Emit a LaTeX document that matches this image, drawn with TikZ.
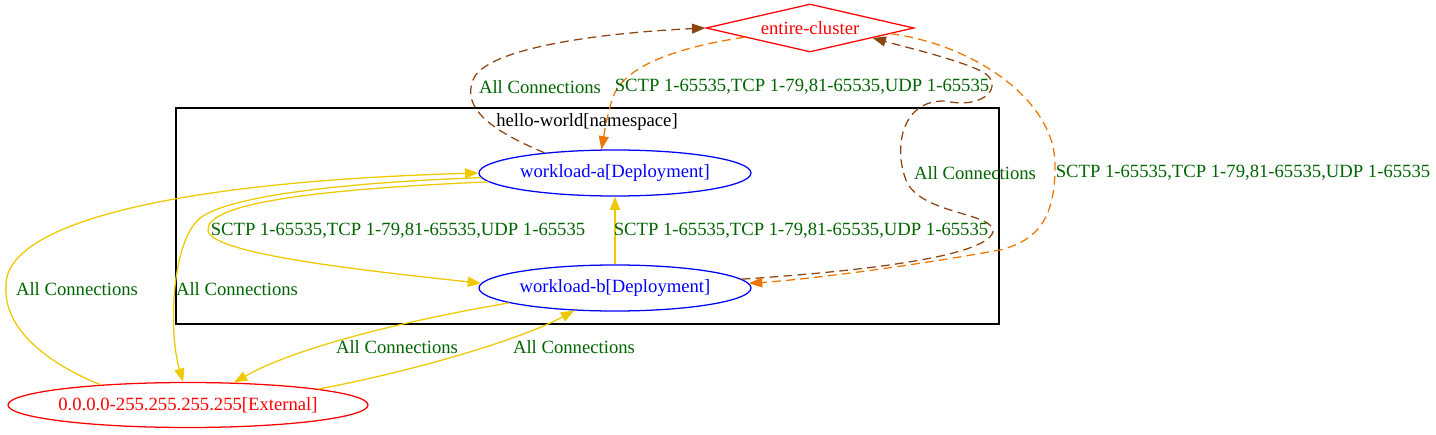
\documentclass[tikz,border=0pt]{standalone}
\usepackage{fontspec}
\setmainfont{Liberation Serif}
\usetikzlibrary{shapes.geometric,arrows.meta}
\definecolor{edgegold}{RGB}{238,201,0}
\definecolor{edgebrown}{RGB}{139,69,19}
\definecolor{edgeorange}{RGB}{238,118,0}
\definecolor{lblgreen}{RGB}{0,100,0}
\begin{document}
\begin{tikzpicture}[x=0.75pt,y=-0.75pt,font=\fontsize{14pt}{16pt}\selectfont,line width=0.95pt,
  workload/.style={ellipse,draw=blue,text=blue,inner sep=0pt,minimum width=204pt,minimum height=34.5pt},
  external/.style={ellipse,draw=red,text=red,inner ysep=0pt,inner xsep=-2pt,minimum width=270pt,minimum height=33.75pt},
  clusterbox/.style={diamond,draw=red,text=red,inner sep=0pt,shape aspect=4.33,minimum width=156pt,minimum height=36pt},
  lbl/.style={text=lblgreen,inner sep=0pt},
  yellowedge/.style={draw=edgegold,-{Triangle[length=10pt,width=7.5pt]}},
  brownedge/.style={draw=edgebrown,dash pattern=on 6.5pt off 4pt,-{Triangle[length=10pt,width=7.5pt]}},
  orangeedge/.style={draw=edgeorange,dash pattern=on 6.5pt off 4pt,-{Triangle[length=10pt,width=7.5pt]}}]
                \useasboundingbox (0,0) rectangle (1436,435);
                \draw (176,108) rectangle (999,324);
                \node (NS) at (587,122) {hello-world[namespace]};
                \node[clusterbox] (EC) at (810,28) {entire-cluster};
                \node[workload] (WA) at (615,173) {workload-a[Deployment]};
                \node[workload] (WB) at (615,288) {workload-b[Deployment]};
                \node[external] (EXT) at (188,405) {0.0.0.0-255.255.255.255[External]};
                \draw[brownedge] (WA.164) .. controls (490,130) and (462,108) .. (473,80) .. controls (485,48) and (600,33) .. (EC.west);
                \draw[orangeedge] (EC.188) .. controls (680,47) and (622,65) .. (612,100) .. controls (606,120) and (604,135) .. (WA.120);
                \draw[brownedge] (WB.4) .. controls (850,272) and (985,258) .. (993,232) .. controls (995,212) and (920,215) .. (906,180) .. controls (894,150) and (900,100) .. (945,101) .. controls (985,110) and (1005,85) .. (983,72) .. controls (960,60) and (905,47) .. (EC.351);
                \draw[orangeedge] (EC.356) .. controls (975,45) and (1053,100) .. (1055,162) .. controls (1056,215) and (1040,240) .. (1000,250) .. controls (900,268) and (800,280) .. (WB.2);
                \draw[yellowedge] (WA.184) .. controls (300,190) and (207,205) .. (208,230) .. controls (209,255) and (380,272) .. (WB.178);
                \draw[yellowedge] (WB.north) -- (WA.south);
                \draw[yellowedge] (EXT.167) .. controls (40,360) and (3,325) .. (6,285) .. controls (6,225) and (165,182) .. (WA.west);
                \draw[yellowedge] (WA.182) .. controls (330,183) and (220,198) .. (198,220) .. controls (172,245) and (168,330) .. (EXT.102);
                \draw[yellowedge] (WB.188) .. controls (420,318) and (300,345) .. (EXT.26);
                \draw[yellowedge] (EXT.7) .. controls (410,372) and (520,340) .. (WB.209);
                \node[lbl] (L1) at (540,87) {All Connections};
                \node[lbl] (L2) at (802,87) {SCTP 1-65535,TCP 1-79,81-65535,UDP 1-65535};
                \node[lbl] (L3) at (975,173) {All Connections};
                \node[lbl] (L4) at (1243,173) {SCTP 1-65535,TCP 1-79,81-65535,UDP 1-65535};
                \node[lbl] (L5) at (398,231) {SCTP 1-65535,TCP 1-79,81-65535,UDP 1-65535};
                \node[lbl] (L6) at (801,231) {SCTP 1-65535,TCP 1-79,81-65535,UDP 1-65535};
                \node[lbl] (L7) at (77,289) {All Connections};
                \node[lbl] (L8) at (237,289) {All Connections};
                \node[lbl] (L9) at (397,347) {All Connections};
                \node[lbl] (L10) at (574,347) {All Connections};
\end{tikzpicture}
\end{document}
